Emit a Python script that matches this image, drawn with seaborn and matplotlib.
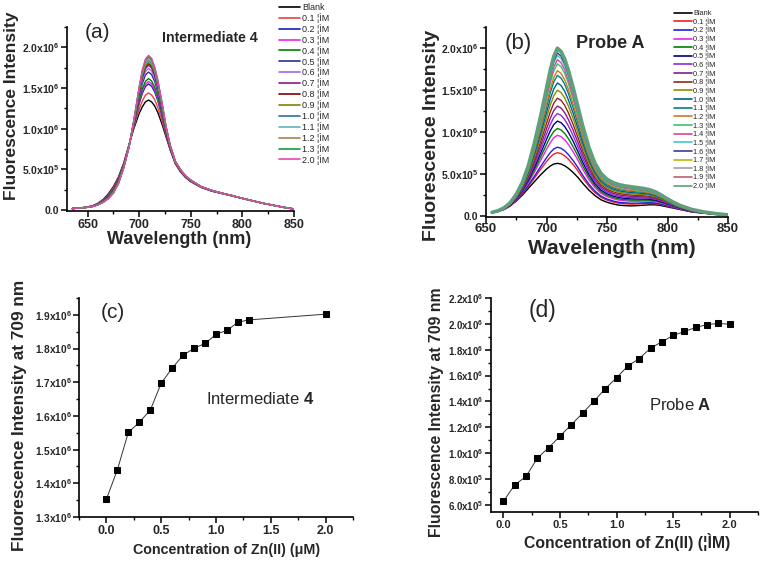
import numpy as np
import pandas as pd
import matplotlib
matplotlib.use("Agg")
import matplotlib.pyplot as plt
import seaborn as sns
from matplotlib.ticker import MultipleLocator, FuncFormatter

# ---------------- data ----------------
# panel (c): Intermediate 4, intensity at 709 nm vs Zn(II)
conc_c = [0.0, 0.1, 0.2, 0.3, 0.4, 0.5, 0.6, 0.7, 0.8, 0.9, 1.0, 1.1, 1.2, 1.3, 2.0]
int_c = [1.353e6, 1.440e6, 1.551e6, 1.581e6, 1.617e6, 1.697e6, 1.742e6, 1.780e6,
         1.801e6, 1.815e6, 1.842e6, 1.854e6, 1.878e6, 1.885e6, 1.902e6]

# panel (d): Probe A
conc_d = [0.0, 0.1, 0.2, 0.3, 0.4, 0.5, 0.6, 0.7, 0.8, 0.9, 1.0, 1.1, 1.2, 1.3,
          1.4, 1.5, 1.6, 1.7, 1.8, 1.9, 2.0]
int_d = [0.628e6, 0.755e6, 0.820e6, 0.962e6, 1.043e6, 1.131e6, 1.221e6, 1.309e6,
         1.403e6, 1.498e6, 1.584e6, 1.674e6, 1.731e6, 1.812e6, 1.861e6, 1.910e6,
         1.941e6, 1.972e6, 1.995e6, 2.003e6, 1.998e6]

# legend labels
labels_a = ["Blank"] + [f"{c:.1f} ¦ÌM" for c in conc_c[1:]]
labels_b = ["Blank"] + [f"{c:.1f} ¦ÌM" for c in conc_d[1:]]

# spectra (a): wavelength grid and the blank / saturated spectra (x1e6)
wl_a = [635, 640, 645, 650, 655, 660, 665, 670, 675, 680, 685, 690, 695, 700, 703, 706,
        709, 712, 715, 718, 722, 726, 730, 735, 740, 745, 750, 760, 770, 780, 790, 800,
        810, 820, 830, 840, 850]
blank_a = [.02, .025, .03, .04, .055, .085, .13, .20, .29, .41, .58, .80, 1.01, 1.19, 1.27, 1.33,
           1.353, 1.33, 1.28, 1.20, 1.06, .90, .74, .57, .47, .40, .35, .28, .235, .205, .175, .145,
           .115, .085, .06, .035, .015]
final_a = [.02, .025, .03, .035, .045, .065, .095, .14, .21, .33, .52, .77, 1.12, 1.52, 1.725, 1.856,
           1.902, 1.865, 1.76, 1.60, 1.33, 1.03, .80, .60, .50, .42, .37, .29, .245, .21, .18, .145,
           .115, .085, .06, .035, .015]

# spectra (b)
wl_b = [655, 660, 665, 670, 675, 680, 685, 690, 695, 700, 703, 706, 709, 712, 715, 718, 722,
        726, 730, 735, 740, 745, 750, 755, 760, 765, 770, 775, 780, 785, 790, 795, 800, 805,
        810, 820, 830, 840, 850]
blank_b = [.04, .055, .08, .12, .18, .25, .33, .41, .49, .56, .595, .62, .628, .62, .60, .57, .52,
           .46, .39, .31, .245, .195, .165, .145, .13, .125, .122, .125, .13, .135, .135, .125, .11, .095,
           .08, .05, .035, .02, .01]
final_b = [.045, .065, .10, .16, .26, .40, .60, .87, 1.18, 1.52, 1.73, 1.90, 1.998, 1.96, 1.87, 1.74, 1.53,
           1.30, 1.07, .82, .63, .51, .44, .40, .375, .36, .35, .34, .33, .315, .29, .25, .205, .165,
           .13, .08, .05, .03, .015]

colors_a = ["#000000", "#E8453C", "#1A1ABF", "#F020F0", "#008000", "#2E2E8F", "#A064F5",
            "#8A1A8A", "#800000", "#808000", "#2F6F9F", "#62B4B4", "#A8824E", "#10A040", "#E04AA8"]
colors_b = ["#000000", "#F02020", "#2020E0", "#F020F0", "#008000", "#000080", "#8A2BE2",
            "#8A1A8A", "#8B2A1A", "#8C8C00", "#00608A", "#008080", "#D07820", "#40C070",
            "#E0409A", "#40C8D0", "#3A3AA0", "#B8B800", "#A0A0A0", "#C06070", "#5FA07A"]


def spectra_frame(wl, blank, final, peaks, labels):
    rows = []
    p0, p1 = peaks[0], peaks[-1]
    for pk, lab in zip(peaks, labels):
        t = (pk - p0) / (p1 - p0)
        for w, b, f in zip(wl, blank, final):
            rows.append((w, (b + t * (f - b)) * 1e6, lab))
    return pd.DataFrame(rows, columns=["wl", "I", "label"])


df_a = spectra_frame(wl_a, blank_a, final_a, int_c, labels_a)
df_b = spectra_frame(wl_b, blank_b, final_b, int_d, labels_b)

# ---------------- style ----------------
sns.set_theme(style="ticks")
plt.rcParams['font.family'] = ['Liberation Sans', 'DejaVu Sans']
plt.rcParams['font.weight'] = 'bold'
plt.rcParams['mathtext.fontset'] = 'custom'
plt.rcParams['mathtext.rm'] = 'Liberation Sans:bold'
plt.rcParams['mathtext.bf'] = 'Liberation Sans:bold'

W, H = 768, 566
fig = plt.figure(figsize=(W / 100, H / 100), dpi=100)


def ax_px(l, t, r, b):
    return fig.add_axes([l / W, 1 - b / H, (r - l) / W, (b - t) / H])


def sci(v, pos):
    if abs(v) < 1e-9:
        return "0.0"
    e = int(np.floor(np.log10(abs(v)) + 1e-9))
    m = v / 10 ** e
    return f"{m:.1f}x10$^{{\\mathbf{{{e}}}}}$"


def style(ax, xmaj, ymaj, xfs, yfs, xpad=1.5):
    sns.despine(ax=ax)
    for s in ("left", "bottom"):
        ax.spines[s].set_linewidth(1.2)
        ax.spines[s].set_color("black")
    ax.xaxis.set_major_locator(MultipleLocator(xmaj))
    ax.xaxis.set_minor_locator(MultipleLocator(xmaj / 2))
    ax.yaxis.set_major_locator(MultipleLocator(ymaj))
    ax.yaxis.set_minor_locator(MultipleLocator(ymaj / 2))
    ax.yaxis.set_major_formatter(FuncFormatter(sci))
    ax.tick_params(which="major", direction="out", length=4, width=1.1, color="black", pad=1.5)
    ax.tick_params(which="minor", direction="out", length=2.2, width=1.0, color="black")
    ax.tick_params(axis="x", labelsize=xfs, pad=xpad)
    ax.tick_params(axis="y", labelsize=yfs)
    ax.set_xlabel("")
    ax.set_ylabel("")
    ax.set_facecolor("white")
    plt.setp(ax.get_xticklabels(), fontweight="bold")
    plt.setp(ax.get_yticklabels(), fontweight="bold")


def ftext(x, y, s, **kw):
    fig.text(x / W, 1 - y / H, s, ha="center", va="center", **kw)


# ---------------- panel (a) ----------------
axa = ax_px(67, 27, 294, 211)
sns.lineplot(data=df_a, x="wl", y="I", hue="label", hue_order=labels_a,
             palette=dict(zip(labels_a, colors_a)), sort=False, estimator=None,
             linewidth=1.0, ax=axa, legend=False)
axa.set_xlim(630, 850)
axa.set_ylim(-0.01e6, 2.25e6)
style(axa, 50, 0.5e6, 9, 7.5)
ha = [plt.Line2D([], [], color=c, lw=1.2) for c in colors_a]
axa.legend(ha, labels_a, loc="upper left", bbox_to_anchor=(279 / W, 1 - 3 / H),
           bbox_transform=fig.transFigure, frameon=False, borderpad=0, borderaxespad=0,
           prop={"size": 6.5, "weight": "normal"}, handlelength=2.3, handletextpad=0.25,
           labelspacing=0.1)
ftext(97, 33, "(a)", fontsize=15, weight="normal")
ftext(210, 38, "Intermediate 4", fontsize=10.2, weight="bold")
ftext(12, 106, "Fluorescence Intensity", fontsize=12.5, weight="bold", rotation=90)
ftext(179, 240, "Wavelength (nm)", fontsize=13, weight="bold")

# ---------------- panel (b) ----------------
axb = ax_px(486, 27, 728, 217)
sns.lineplot(data=df_b, x="wl", y="I", hue="label", hue_order=labels_b,
             palette=dict(zip(labels_b, colors_b)), sort=False, estimator=None,
             linewidth=1.0, ax=axb, legend=False)
axb.lines[-1].set_linewidth(2.6)
axb.set_xlim(650, 850)
axb.set_ylim(-0.01e6, 2.25e6)
style(axb, 50, 0.5e6, 9.5, 7.5, xpad=0.5)
hb = [plt.Line2D([], [], color=c, lw=1.2) for c in colors_b]
axb.legend(hb, labels_b, loc="upper left", bbox_to_anchor=(674 / W, 1 - 10 / H),
           bbox_transform=fig.transFigure, frameon=False, borderpad=0, borderaxespad=0,
           prop={"size": 5.3, "weight": "normal"}, handlelength=2.45, handletextpad=0.15,
           labelspacing=0.02)
ftext(518, 43, "(b)", fontsize=16, weight="normal")
ftext(610, 43, "Probe A", fontsize=13, weight="bold")
ftext(432, 135, "Fluorescence Intensity", fontsize=14, weight="bold", rotation=90)
ftext(612, 249, "Wavelength (nm)", fontsize=15, weight="bold")

# ---------------- panel (c) ----------------
axc = ax_px(79, 298, 353, 517)
sns.lineplot(x=conc_c, y=int_c, ax=axc, color="#333333", linewidth=0.7, marker="s",
             markersize=4.2, markeredgecolor="black", markerfacecolor="black")
axc.set_xlim(-0.25, 2.25)
axc.set_ylim(1.3e6, 1.95e6)
style(axc, 0.5, 0.1e6, 9, 7.3)
ftext(113, 312, "(c)", fontsize=15, weight="normal")
ftext(260, 399, "Intermediate $\\mathbf{4}$", fontsize=12, weight="normal")
ftext(20, 415, "Fluorescence Intensity at 709 nm", fontsize=12.4, weight="bold", rotation=90)
ftext(227, 550, "Concentration of Zn(II) (μM)", fontsize=10.3, weight="bold")

# ---------------- panel (d) ----------------
axd = ax_px(491, 298, 758, 512)
sns.lineplot(x=conc_d, y=int_d, ax=axd, color="#333333", linewidth=0.7, marker="s",
             markersize=4.2, markeredgecolor="black", markerfacecolor="black")
axd.set_xlim(-0.11, 2.25)
axd.set_ylim(0.545e6, 2.2e6)
style(axd, 0.5, 0.2e6, 8, 7)
ftext(542, 310, "(d)", fontsize=16.5, weight="normal")
ftext(680, 405, "Probe $\\mathbf{A}$", fontsize=12, weight="normal")
ftext(437, 412, "Fluorescence Intensity at 709 nm", fontsize=11.4, weight="bold", rotation=90)
ftext(627, 542, "Concentration of Zn(II) (¦ÌM)", fontsize=11.3, weight="bold")

fig.savefig("out.png", dpi=100, facecolor="white")
